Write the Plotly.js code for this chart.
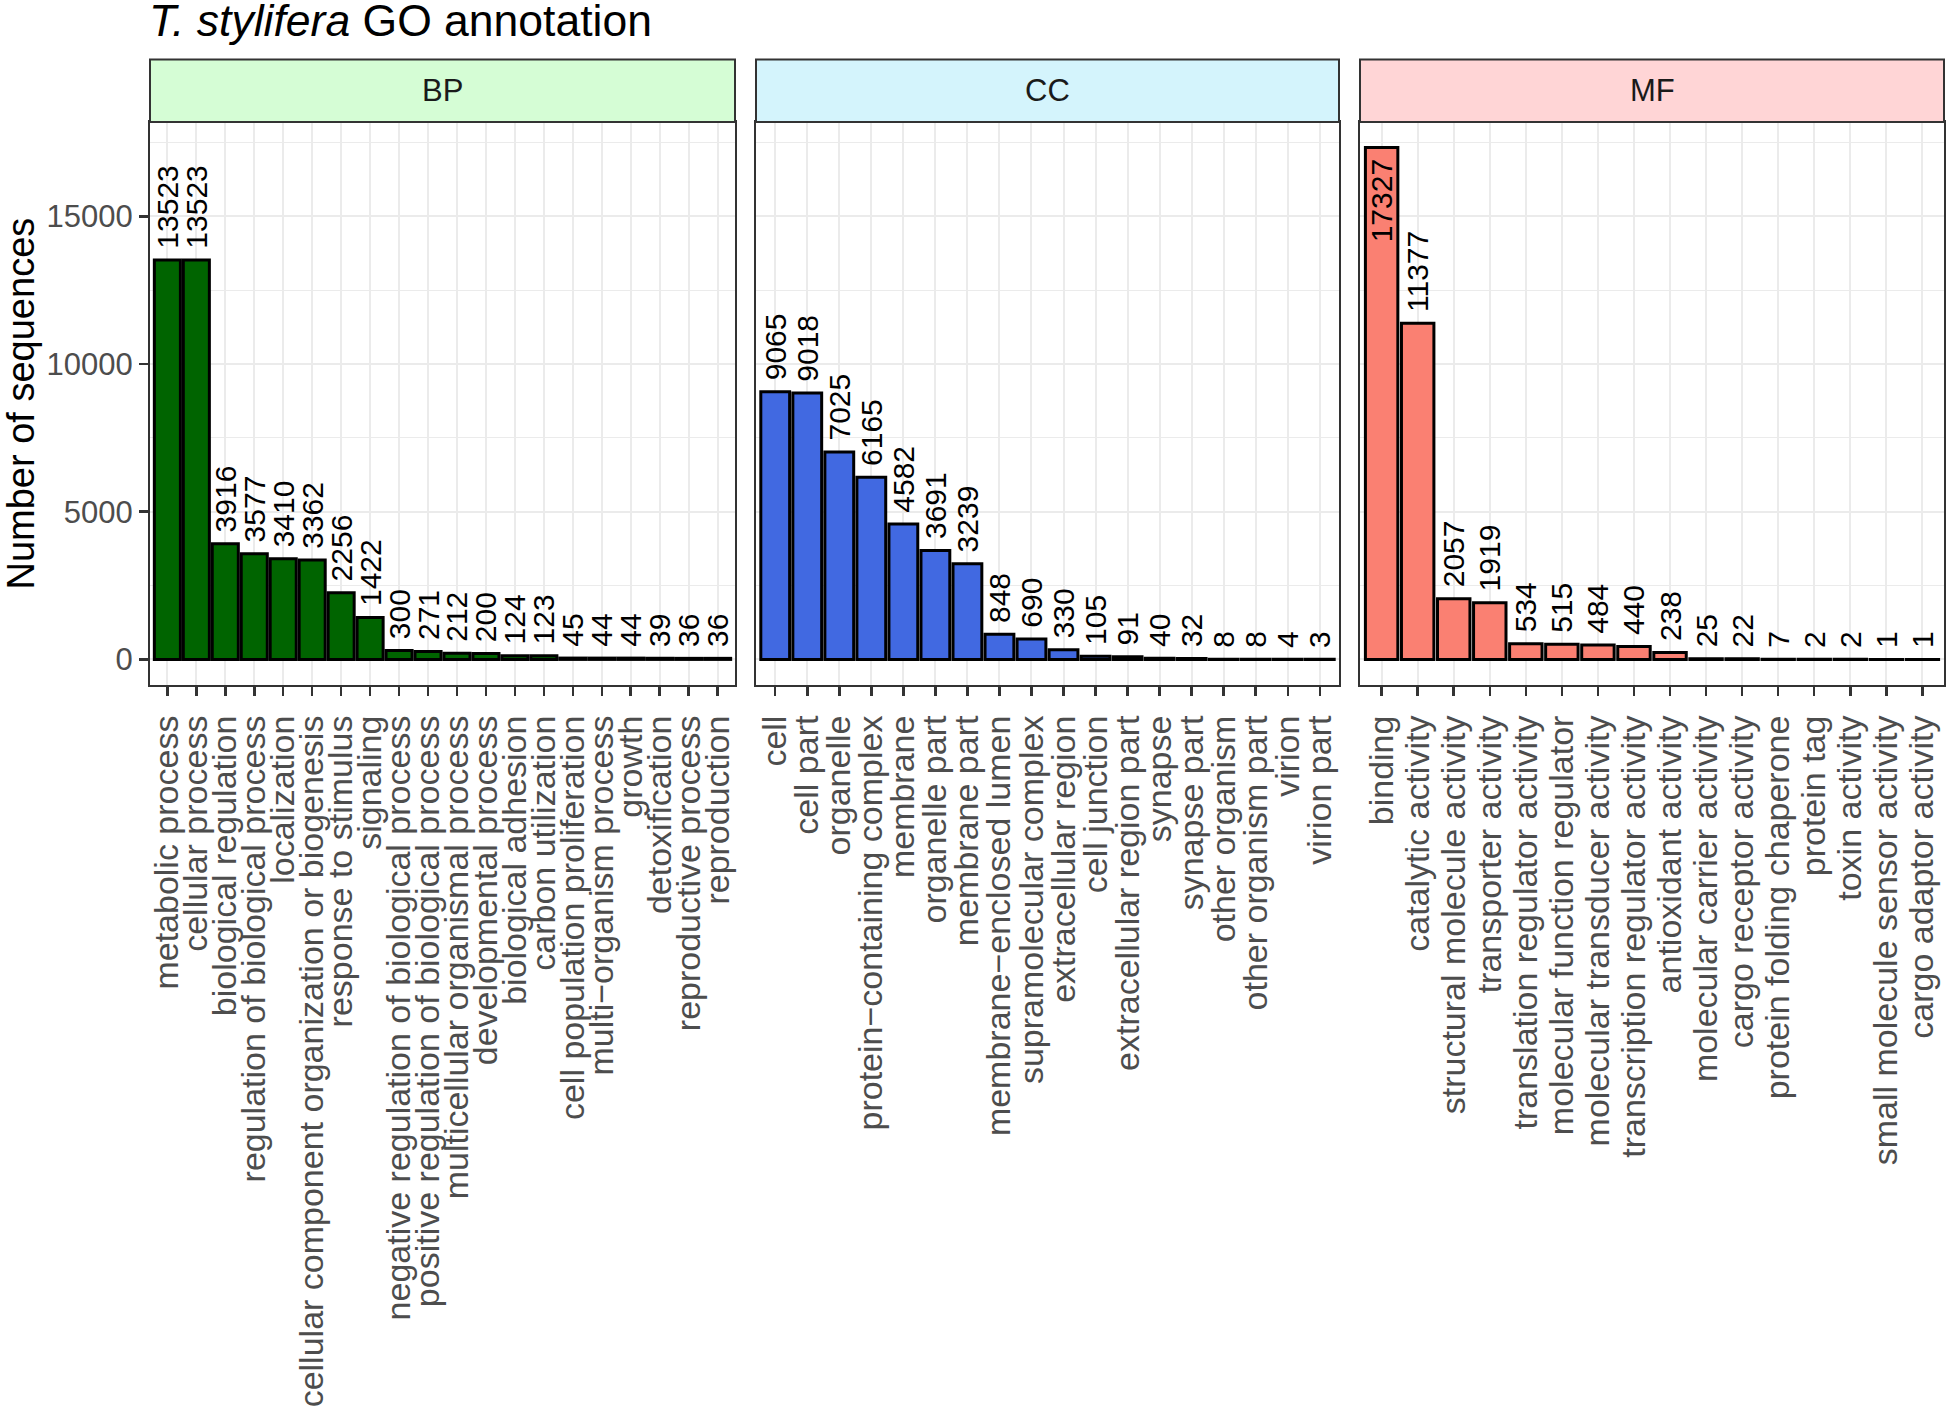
<!DOCTYPE html>
<html>
<head>
<meta charset="utf-8">
<script src="https://cdn.plot.ly/plotly-3.0.1.min.js"></script>
<style>html,body{margin:0;padding:0;background:#fff;}</style>
</head>
<body>
<div id="chart" style="width:1946px;height:1408px;"></div>
<script>
// ---------------- data ----------------
const bpCategories = ["metabolic process", "cellular process", "biological regulation",
  "regulation of biological process", "localization",
  "cellular component organization or biogenesis", "response to stimulus", "signaling",
  "negative regulation of biological process", "positive regulation of biological process",
  "multicellular organismal process", "developmental process", "biological adhesion",
  "carbon utilization", "cell population proliferation", "multi\u2212organism process",
  "growth", "detoxification", "reproductive process", "reproduction"];
const bpValues = [13523, 13523, 3916, 3577, 3410, 3362, 2256, 1422, 300, 271, 212, 200,
  124, 123, 45, 44, 44, 39, 36, 36];

const ccCategories = ["cell", "cell part", "organelle", "protein\u2212containing complex",
  "membrane", "organelle part", "membrane part", "membrane\u2212enclosed lumen",
  "supramolecular complex", "extracellular region", "cell junction",
  "extracellular region part", "synapse", "synapse part", "other organism",
  "other organism part", "virion", "virion part"];
const ccValues = [9065, 9018, 7025, 6165, 4582, 3691, 3239, 848, 690, 330, 105, 91, 40, 32,
  8, 8, 4, 3];

const mfCategories = ["binding", "catalytic activity", "structural molecule activity",
  "transporter activity", "translation regulator activity", "molecular function regulator",
  "molecular transducer activity", "transcription regulator activity",
  "antioxidant activity", "molecular carrier activity", "cargo receptor activity",
  "protein folding chaperone", "protein tag", "toxin activity",
  "small molecule sensor activity", "cargo adaptor activity"];
const mfValues = [17327, 11377, 2057, 1919, 534, 515, 484, 440, 238, 25, 22, 7, 2, 2, 1, 1];

const facetNames = ["BP", "CC", "MF"];
const yTicks = [0, 5000, 10000, 15000];
const yMinorTicks = [2500, 7500, 12500, 17500];

// ---------------- styling ----------------
const FONT = "Liberation Sans, Arial, Helvetica, sans-serif";
const W = 1946, H = 1408;
const panelsPx = [[150, 735], [756, 1339], [1360, 1944]];
const panelTop = 122, panelBottom = 685, stripTop = 59.6;
const yDom = [(H - panelBottom) / H, (H - panelTop) / H];
const stripTopFrac = (H - stripTop) / H;
const barColors = ["#006400", "#4169E1", "#FA8072"];
const stripColors = ["#D5FDD5", "#D4F4FC", "#FFD5D6"];

const allVals = bpValues.concat(ccValues, mfValues);
const yMax = Math.max(...allVals);
const yRange = [-0.05 * yMax, 1.05 * yMax];

const groups = [[bpCategories, bpValues], [ccCategories, ccValues], [mfCategories, mfValues]];

const traces = groups.map((g, i) => {
  const cats = g[0], vals = g[1];
  const sfx = i === 0 ? "" : String(i + 1);
  return {
    type: "bar",
    x: cats, y: vals,
    xaxis: "x" + sfx, yaxis: "y" + sfx,
    marker: {color: barColors[i], line: {color: "#000000", width: 3}},
    texttemplate: "\u00A0%{y:d}\u00A0",
    textposition: vals.map(v => (v > 0.95 * yMax ? "inside" : "outside")),
    insidetextanchor: "end",
    textangle: -90,
    constraintext: "none",
    cliponaxis: false,
    textfont: {family: FONT, size: 30, color: "#000000"},
    insidetextfont: {family: FONT, size: 30, color: "#000000"},
    outsidetextfont: {family: FONT, size: 30, color: "#000000"},
    hoverinfo: "x+y",
    showlegend: false
  };
});

const layout = {
  width: W, height: H,
  margin: {l: 0, r: 0, t: 0, b: 0},
  paper_bgcolor: "#ffffff", plot_bgcolor: "#ffffff",
  bargap: 0.1,
  font: {family: FONT, color: "#000000"},
  title: {
    text: "<i>T. stylifera</i> GO annotation",
    font: {family: FONT, size: 44.5, color: "#000000"},
    xref: "container", x: 149 / W, xanchor: "left",
    yref: "container", y: 1 - 5 / H, yanchor: "top"
  },
  shapes: [], annotations: []
};

groups.forEach((g, i) => {
  const sfx = i === 0 ? "" : String(i + 1);
  const d = [panelsPx[i][0] / W, panelsPx[i][1] / W];
  layout["xaxis" + sfx] = {
    domain: d, anchor: "y" + sfx, type: "category",
    range: [-0.6, g[0].length - 0.4],
    tickmode: "linear", tick0: 0, dtick: 1,
    showgrid: true, gridcolor: "#EBEBEB", gridwidth: 2,
    ticks: "outside", ticklen: 9, tickwidth: 2.5, tickcolor: "#333333",
    tickangle: -90, ticklabelstandoff: 6,
    tickfont: {family: FONT, size: 34, color: "#4D4D4D"},
    showline: true, mirror: true, linecolor: "#333333", linewidth: 2,
    zeroline: false, fixedrange: true
  };
  const ya = {
    domain: yDom, anchor: "x" + sfx, range: yRange,
    tickmode: "array", tickvals: yTicks, tickformat: "d",
    showgrid: true, gridcolor: "#EBEBEB", gridwidth: 2,
    minor: {tickmode: "array", tickvals: yMinorTicks, showgrid: true,
            gridcolor: "#EBEBEB", gridwidth: 1, ticks: ""},
    showline: true, mirror: true, linecolor: "#333333", linewidth: 2,
    zeroline: false, fixedrange: true
  };
  if (i === 0) {
    Object.assign(ya, {ticks: "outside", ticklen: 9, tickwidth: 2.5, tickcolor: "#333333",
      tickfont: {family: FONT, size: 31, color: "#4D4D4D"}});
  } else {
    Object.assign(ya, {matches: "y", showticklabels: false, ticks: ""});
  }
  layout["yaxis" + sfx] = ya;

  layout.shapes.push({
    type: "rect", xref: "paper", yref: "paper",
    x0: d[0], x1: d[1], y0: yDom[1], y1: stripTopFrac,
    fillcolor: stripColors[i], line: {color: "#333333", width: 2}, layer: "above"
  });
  layout.annotations.push({
    xref: "paper", yref: "paper", x: (d[0] + d[1]) / 2, y: (yDom[1] + stripTopFrac) / 2,
    xanchor: "center", yanchor: "middle", showarrow: false,
    text: facetNames[i], font: {family: FONT, size: 31, color: "#1A1A1A"}
  });
});

layout.annotations.push({
  xref: "paper", yref: "paper", x: 20 / W, y: (yDom[0] + yDom[1]) / 2,
  xanchor: "center", yanchor: "middle", showarrow: false, textangle: -90,
  text: "Number of sequences", font: {family: FONT, size: 38, color: "#000000"}
});

Plotly.newPlot("chart", traces, layout, {displayModeBar: false, staticPlot: true});
</script>
</body>
</html>
